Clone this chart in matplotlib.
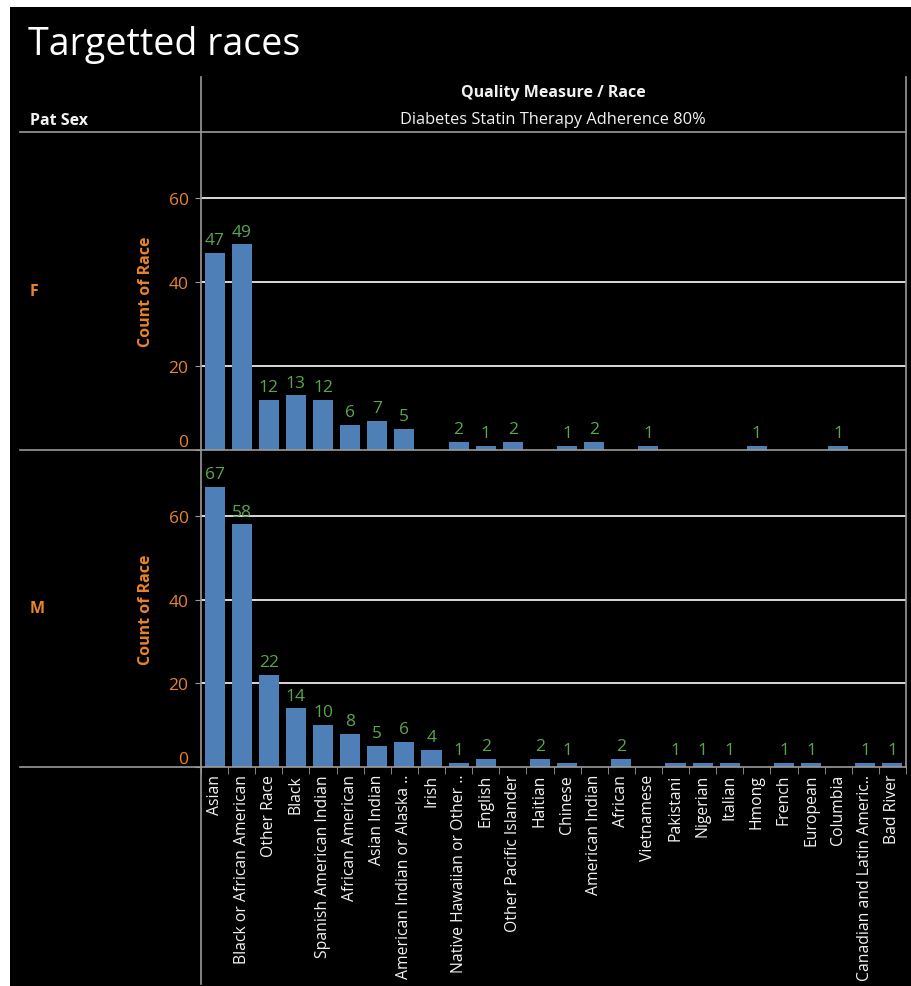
import matplotlib
matplotlib.use("Agg")
import matplotlib.pyplot as plt
from matplotlib.lines import Line2D
from matplotlib.patches import Rectangle

plt.rcParams['font.family'] = ['Open Sans', 'DejaVu Sans']

# ---- data -------------------------------------------------------------
races = [
    "Asian", "Black or African American", "Other Race", "Black",
    "Spanish American Indian", "African American", "Asian Indian",
    "American Indian or Alaska ..", "Irish", "Native Hawaiian or Other ..",
    "English", "Other Pacific Islander", "Haitian", "Chinese",
    "American Indian", "African", "Vietnamese", "Pakistani", "Nigerian",
    "Italian", "Hmong", "French", "European", "Columbia",
    "Canadian and Latin Americ..", "Bad River",
]
female_counts = [47, 49, 12, 13, 12, 6, 7, 5, 0, 2, 1, 2, 0, 1, 2, 0, 1,
                 0, 0, 0, 1, 0, 0, 1, 0, 0]
male_counts = [67, 58, 22, 14, 10, 8, 5, 6, 4, 1, 2, 0, 2, 1, 0, 2, 0,
               1, 1, 1, 0, 1, 1, 0, 1, 1]
sexes = ["F", "M"]
y_ticks = [0, 20, 40, 60]

title = "Targetted races"
row_header = "Pat Sex"
col_header = "Quality Measure / Race"
measure_name = "Diabetes Statin Therapy Adherence 80%"
axis_title = "Count of Race"

# ---- style ------------------------------------------------------------
BAR = "#4e7fb6"
ORANGE = "#e8842c"
GREEN = "#5aa64f"
WHITE = "#f2f2f2"
GRID = "#d9d9d9"
RULE = "#9a9a9a"

W, H = 911, 987
fig = plt.figure(figsize=(W / 100, H / 100), dpi=100, facecolor="white")


def rect(x0, y0, x1, y1):
    return [x0 / W, 1 - y1 / H, (x1 - x0) / W, (y1 - y0) / H]


def fx(x):
    return x / W


def fy(y):
    return 1 - y / H


def hline(y, x0, x1, color=RULE, lw=1.2):
    fig.add_artist(Line2D([fx(x0), fx(x1)], [fy(y), fy(y)],
                          transform=fig.transFigure, color=color, lw=lw))


def vline(x, y0, y1, color=RULE, lw=1.2):
    fig.add_artist(Line2D([fx(x), fx(x)], [fy(y0), fy(y1)],
                          transform=fig.transFigure, color=color, lw=lw))


# dark canvas
fig.add_artist(Rectangle((fx(10), 0), 1 - fx(10), fy(8), transform=fig.transFigure,
                         facecolor="black", edgecolor="none", zorder=-10))

# ---- panels -----------------------------------------------------------
X0, X1 = 201, 906
panel_bounds = [(133, 451), (451, 768)]
ymax = 75.8
n = len(races)
xs = list(range(n))

axes = []
for (top, bottom), sex, counts in zip(panel_bounds, sexes,
                                      [female_counts, male_counts]):
    ax = fig.add_axes(rect(X0, top, X1, bottom))
    ax.set_facecolor("black")
    ax.set_xlim(-0.5, n - 0.5)
    ax.set_ylim(0, ymax)
    for s in ax.spines.values():
        s.set_visible(False)
    for t in y_ticks[1:]:
        ax.axhline(t, color=GRID, lw=1.4, zorder=0)
    ax.bar(xs, counts, width=0.74, color=BAR, zorder=2)
    for x, c in zip(xs, counts):
        if c > 0:
            ax.annotate(str(c), (x, c), xytext=(0, 3.5), textcoords="offset points",
                        ha="center", va="bottom", color=GREEN, fontsize=12.5,
                        zorder=3)
    ax.set_yticks(y_ticks)
    ax.set_yticklabels([str(t) for t in y_ticks], color=ORANGE, fontsize=12.5)
    ax.tick_params(axis="y", length=4, color=RULE, pad=5)
    # keep the zero label inside its own pane
    ax.get_yticklabels()[0].set_verticalalignment("bottom")
    ax.set_ylabel(axis_title, color=ORANGE, fontsize=11.5, fontweight="bold")
    ax.yaxis.set_label_coords(-0.066, 0.5)
    ax.set_xticks([])
    # row label
    fig.text(fx(30), fy((top + bottom) / 2), sex, color=ORANGE, fontsize=11.5,
             fontweight="bold", ha="left", va="center")
    axes.append(ax)

# bottom axis with category labels
ax_m = axes[1]
ax_m.set_xticks(xs)
ax_m.set_xticklabels(races, rotation=90, color=WHITE, fontsize=11.3)
ax_m.tick_params(axis="x", length=0, pad=5)
ax_m.set_xticks([i + 0.5 for i in range(-1, n)], minor=True)
ax_m.tick_params(axis="x", which="minor", length=5, color=RULE)

# ---- frame lines and headers -----------------------------------------
hline(133, 20, 906)
hline(451, 20, 906)
hline(768, 20, 906)
vline(201, 78, 985)
vline(906, 78, 768)

fig.text(fx(28), fy(45), title, color="white", fontsize=27, ha="left",
         va="center")
fig.text(fx(30), fy(121), row_header, color=WHITE, fontsize=11.5,
         fontweight="bold", ha="left", va="center")
fig.text(fx(553), fy(93), col_header, color=WHITE, fontsize=11.5,
         fontweight="bold", ha="center", va="center")
fig.text(fx(553), fy(120), measure_name, color=WHITE, fontsize=11.8,
         ha="center", va="center")

fig.savefig("out.png", dpi=100, facecolor=fig.get_facecolor())
